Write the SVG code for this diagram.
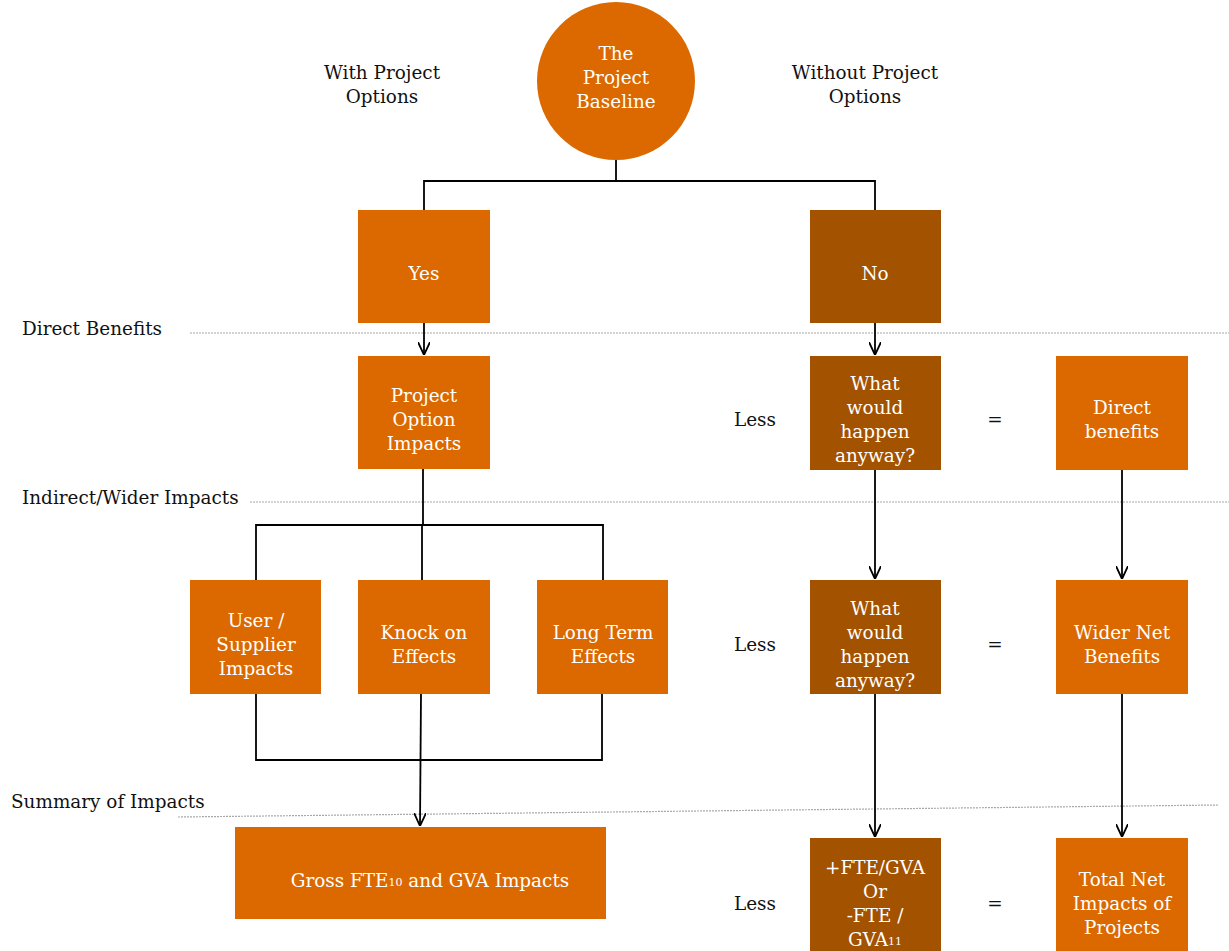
<svg xmlns="http://www.w3.org/2000/svg" width="1229" height="951" viewBox="0 0 1229 951">
<defs>
<style>
.o{fill:#DC6900}
.d{fill:#A35200}
.w{fill:#FFFFFF;font-family:"DejaVu Serif","Liberation Serif",serif;font-size:18.4px;text-anchor:middle}
.b{fill:#111111;font-family:"DejaVu Serif","Liberation Serif",serif;font-size:18.4px}
.c{stroke:#000;stroke-width:1.8;fill:none}
.g{stroke:#A8A8A8;stroke-width:1.2;stroke-dasharray:2 1;fill:none}
</style>
<marker id="ah" viewBox="0 0 13 12" refX="13" refY="6" markerWidth="13" markerHeight="12" markerUnits="userSpaceOnUse" orient="auto">
<path d="M0,0 L13,6 L0,12" fill="none" stroke="#000" stroke-width="1.8"/>
</marker>
</defs>
<rect width="1229" height="951" fill="#FFFFFF"/>

<g id="guides">
<line class="g" x1="190" y1="333" x2="1229" y2="333"/>
<line class="g" x1="250" y1="502" x2="1229" y2="502"/>
<line class="g" x1="178" y1="817" x2="1219" y2="805"/>
</g>

<g id="labels">
<text class="b" x="382" y="79" text-anchor="middle">With Project</text>
<text class="b" x="382" y="103" text-anchor="middle">Options</text>
<text class="b" x="865" y="79" text-anchor="middle">Without Project</text>
<text class="b" x="865" y="103" text-anchor="middle">Options</text>
<text class="b" x="22" y="335">Direct Benefits</text>
<text class="b" x="22" y="504">Indirect/Wider Impacts</text>
<text class="b" x="11" y="808">Summary of Impacts</text>
<text class="b" x="755" y="426" text-anchor="middle">Less</text>
<text class="b" x="755" y="651" text-anchor="middle">Less</text>
<text class="b" x="755" y="910" text-anchor="middle">Less</text>
<text class="b" x="995" y="426" text-anchor="middle">=</text>
<text class="b" x="995" y="651" text-anchor="middle">=</text>
<text class="b" x="995" y="910" text-anchor="middle">=</text>
</g>

<g id="connectors">
<polyline class="c" points="616,155 616,181"/>
<polyline class="c" points="424,210 424,181 875,181 875,210"/>
<line class="c" x1="424" y1="323" x2="424" y2="355" marker-end="url(#ah)"/>
<line class="c" x1="875" y1="323" x2="875" y2="355" marker-end="url(#ah)"/>
<line class="c" x1="423" y1="469" x2="423" y2="525" stroke-width="2.5"/>
<polyline class="c" points="256,580 256,525 603,525 603,580"/>
<line class="c" x1="422" y1="525" x2="422" y2="580"/>
<polyline class="c" points="256,694 256,760 602,760 602,694"/>
<line class="c" x1="421" y1="694" x2="420" y2="826" marker-end="url(#ah)"/>
<line class="c" x1="875" y1="470" x2="875" y2="579" marker-end="url(#ah)"/>
<line class="c" x1="1122" y1="470" x2="1122" y2="579" marker-end="url(#ah)"/>
<line class="c" x1="875" y1="694" x2="875" y2="837" marker-end="url(#ah)"/>
<line class="c" x1="1122" y1="694" x2="1122" y2="837" marker-end="url(#ah)"/>
</g>

<g id="baseline">
<circle class="o" cx="616" cy="81" r="79"/>
<text class="w" x="616" y="60">The</text>
<text class="w" x="616" y="84">Project</text>
<text class="w" x="616" y="108">Baseline</text>
</g>

<g id="yes">
<rect class="o" x="358" y="210" width="132" height="113"/>
<text class="w" x="424" y="280">Yes</text>
</g>
<g id="no">
<rect class="d" x="810" y="210" width="131" height="113"/>
<text class="w" x="875" y="280">No</text>
</g>

<g id="project-option-impacts">
<rect class="o" x="358" y="356" width="132" height="113"/>
<text class="w" x="424" y="402">Project</text>
<text class="w" x="424" y="426">Option</text>
<text class="w" x="424" y="450">Impacts</text>
</g>
<g id="anyway-1">
<rect class="d" x="810" y="356" width="131" height="114"/>
<text class="w" x="875" y="390">What</text>
<text class="w" x="875" y="414">would</text>
<text class="w" x="875" y="438">happen</text>
<text class="w" x="875" y="462">anyway?</text>
</g>
<g id="direct-benefits">
<rect class="o" x="1056" y="356" width="132" height="114"/>
<text class="w" x="1122" y="414">Direct</text>
<text class="w" x="1122" y="438">benefits</text>
</g>

<g id="user-supplier">
<rect class="o" x="190" y="580" width="131" height="114"/>
<text class="w" x="256" y="627">User /</text>
<text class="w" x="256" y="651">Supplier</text>
<text class="w" x="256" y="675">Impacts</text>
</g>
<g id="knock-on">
<rect class="o" x="358" y="580" width="132" height="114"/>
<text class="w" x="424" y="639">Knock on</text>
<text class="w" x="424" y="663">Effects</text>
</g>
<g id="long-term">
<rect class="o" x="537" y="580" width="131" height="114"/>
<text class="w" x="603" y="639">Long Term</text>
<text class="w" x="603" y="663">Effects</text>
</g>
<g id="anyway-2">
<rect class="d" x="810" y="580" width="131" height="114"/>
<text class="w" x="875" y="615">What</text>
<text class="w" x="875" y="639">would</text>
<text class="w" x="875" y="663">happen</text>
<text class="w" x="875" y="687">anyway?</text>
</g>
<g id="wider-net">
<rect class="o" x="1056" y="580" width="132" height="114"/>
<text class="w" x="1122" y="639">Wider Net</text>
<text class="w" x="1122" y="663">Benefits</text>
</g>

<g id="gross">
<rect class="o" x="235" y="827" width="371" height="92"/>
<text class="w" x="430" y="887">Gross FTE<tspan font-size="11" dy="-1">10</tspan><tspan dy="1"> and GVA Impacts</tspan></text>
</g>
<g id="fte-gva">
<rect class="d" x="810" y="838" width="131" height="113"/>
<text class="w" x="875" y="874">+FTE/GVA</text>
<text class="w" x="875" y="898">Or</text>
<text class="w" x="875" y="922">-FTE /</text>
<text class="w" x="875" y="946">GVA<tspan font-size="11" dy="-1">11</tspan></text>
</g>
<g id="total-net">
<rect class="o" x="1056" y="838" width="132" height="113"/>
<text class="w" x="1122" y="886">Total Net</text>
<text class="w" x="1122" y="910">Impacts of</text>
<text class="w" x="1122" y="934">Projects</text>
</g>
</svg>
